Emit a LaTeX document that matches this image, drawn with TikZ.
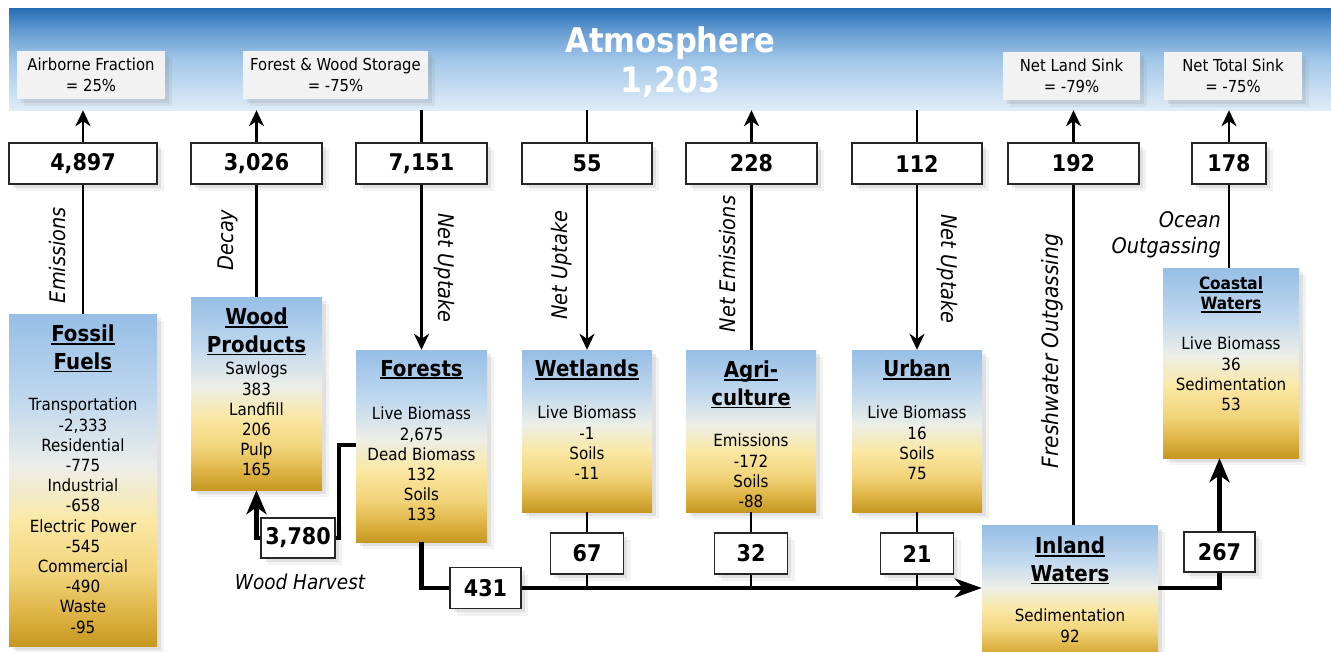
\documentclass[tikz,border=0pt]{standalone}
\usepackage{fontspec}
\setmainfont{DejaVu Sans Condensed}[BoldFont={DejaVu Sans Condensed Bold},ItalicFont={DejaVu Sans Condensed Oblique},BoldItalicFont={DejaVu Sans Condensed Bold Oblique}]
\usetikzlibrary{shadows,arrows.meta}
\definecolor{pg0}{RGB}{198,152,34}
\definecolor{pg1}{RGB}{222,180,70}
\definecolor{pg2}{RGB}{242,212,122}
\definecolor{pg3}{RGB}{250,232,165}
\definecolor{pg4}{RGB}{236,238,232}
\definecolor{pg5}{RGB}{192,216,238}
\definecolor{pg6}{RGB}{150,190,230}
\definecolor{at0}{RGB}{224,236,248}
\definecolor{at1}{RGB}{160,198,232}
\definecolor{at2}{RGB}{100,155,210}
\definecolor{at3}{RGB}{38,108,180}
\pgfdeclareverticalshading{pool}{100bp}{color(0bp)=(pg0); color(25bp)=(pg0); color(30bp)=(pg1); color(36bp)=(pg2); color(44bp)=(pg3); color(52bp)=(pg4); color(62bp)=(pg5); color(75bp)=(pg6); color(100bp)=(pg6)}
\pgfdeclareverticalshading{atmo}{100bp}{color(0bp)=(at0); color(25bp)=(at0); color(50bp)=(at1); color(64bp)=(at2); color(75bp)=(at3); color(100bp)=(at3)}
\newsavebox\ulbox
\newcommand\ulx[1]{\sbox\ulbox{#1}\rlap{\rule[-3pt]{\wd\ulbox}{1.8pt}}\usebox\ulbox}
\begin{document}
\begin{tikzpicture}[x=1pt,y=-1pt,
  shd/.style={drop shadow={opacity=0.10,shadow xshift=7pt,shadow yshift=-7pt},drop shadow={opacity=0.16,shadow xshift=3.5pt,shadow yshift=-3.5pt}},
  valbox/.style={shd,draw=black!85,line width=1.3pt,fill=white,inner sep=0pt,minimum height=41pt,font=\fontsize{23}{23}\selectfont\bfseries},
  labbox/.style={shd,fill=black!5,inner sep=0pt,align=center,minimum height=48pt,font=\fontsize{16.5}{21}\selectfont},
  pool/.style={shd,shading=pool,inner sep=0pt},
  ptitle/.style={anchor=north,align=center,inner sep=0pt,font=\fontsize{22}{27.5}\selectfont\bfseries},
  pbody/.style={anchor=north,align=center,inner sep=0pt,font=\fontsize{16.8}{20.2}\selectfont},
  flab/.style={inner sep=0pt,font=\fontsize{21.5}{26}\selectfont\itshape},
  conn/.style={line width=2.3pt},
  thk/.style={line width=4.3pt},
  arr/.style={-{Stealth[length=16pt,width=15pt,inset=5pt]}},
  bigarr/.style={-{Stealth[length=24pt,width=20pt,inset=7pt]}}
]
\useasboundingbox (0,0) rectangle (1331,651);
% atmosphere
\node[shading=atmo,inner sep=0pt,minimum width=1322pt,minimum height=102pt] (atm) at (670,59) {};
\node[font=\fontsize{34}{34}\selectfont\bfseries,text=white,anchor=base,inner sep=0pt] (atT) at (670.5,52) {Atmosphere};
\node[font=\fontsize{35}{35}\selectfont\bfseries,text=white,anchor=base,inner sep=0pt] (atN) at (670.5,92) {1,203};
% label boxes
\node[labbox,minimum width=148pt] (lAF) at (91,75) {Airborne Fraction\\= 25\%};
\node[labbox,minimum width=185pt] (lFW) at (335.5,75) {Forest \& Wood Storage\\= -75\%};
\node[labbox,minimum width=137pt] (lNL) at (1071.5,76) {Net Land Sink\\= -79\%};
\node[labbox,minimum width=138pt] (lNT) at (1233,76) {Net Total Sink\\= -75\%};
% value boxes (top row)
\node[valbox,minimum width=148pt] (v4897) at (83,163.5) {4,897};
\node[valbox,minimum width=131pt] (v3026) at (256.5,163.5) {3,026};
\node[valbox,minimum width=131pt] (v7151) at (421.5,163.5) {7,151};
\node[valbox,minimum width=130pt] (v55) at (587,163.5) {55};
\node[valbox,minimum width=131pt] (v228) at (751.5,163.5) {228};
\node[valbox,minimum width=130pt] (v112) at (917,163.5) {112};
\node[valbox,minimum width=131pt] (v192) at (1073.5,163.5) {192};
\node[valbox,minimum width=74pt] (v178) at (1229,163.5) {178};
% pools
\node[pool,minimum width=148pt,minimum height=332pt] (ff) at (83,480) {};
\node[pool,minimum width=131pt,minimum height=193pt] (wp) at (256.5,393.5) {};
\node[pool,minimum width=131pt,minimum height=192pt] (fo) at (421.5,446) {};
\node[pool,minimum width=130pt,minimum height=162pt] (we) at (587,431) {};
\node[pool,minimum width=130pt,minimum height=162pt] (ag) at (751,431) {};
\node[pool,minimum width=130pt,minimum height=162pt] (ur) at (917,431) {};
\node[pool,minimum width=136pt,minimum height=190pt] (cw) at (1231,363) {};
\node[pool,minimum width=176pt,minimum height=135pt] (iw) at (1070,592.5) {};
% pool texts
\node[ptitle] (ffT) at (83,325) {\ulx{Fossil}\\\ulx{Fuels}};
\node[pbody] (ffB) at (83,398) {Transportation\\-2,333\\Residential\\-775\\Industrial\\-658\\Electric Power\\-545\\Commercial\\-490\\Waste\\-95};
\node[ptitle] (wpT) at (256.5,308) {\ulx{Wood}\\\ulx{Products}};
\node[pbody] (wpB) at (256.5,362) {Sawlogs\\383\\Landfill\\206\\Pulp\\165};
\node[ptitle] (foT) at (421.5,360) {\ulx{Forests}};
\node[pbody] (foB) at (421.5,407) {Live Biomass\\2,675\\Dead Biomass\\132\\Soils\\133};
\node[ptitle] (weT) at (587,360) {\ulx{Wetlands}};
\node[pbody] (weB) at (587,406) {Live Biomass\\-1\\Soils\\-11};
\node[ptitle] (agT) at (751,361) {\ulx{Agri-}\\\ulx{culture}};
\node[pbody] (agB) at (751,434) {Emissions\\-172\\Soils\\-88};
\node[ptitle] (urT) at (917,360) {\ulx{Urban}};
\node[pbody] (urB) at (917,406) {Live Biomass\\16\\Soils\\75};
\node[ptitle,font=\fontsize{17}{20}\selectfont\bfseries] (cwT) at (1231,276.8) {\ulx{Coastal}\\\ulx{Waters}};
\node[pbody] (cwB) at (1231,337) {Live Biomass\\36\\Sedimentation\\53};
\node[ptitle] (iwT) at (1070,537) {\ulx{Inland}\\\ulx{Waters}};
\node[pbody] (iwB) at (1070,609) {Sedimentation\\92};
% lower value boxes
\node[valbox,minimum width=74pt,minimum height=40pt] (v3780) at (298,538) {3,780};
\node[valbox,minimum width=71pt] (v431) at (485.5,588) {431};
\node[valbox,minimum width=73pt] (v67) at (587,553.5) {67};
\node[valbox,minimum width=73pt] (v32) at (751,553.5) {32};
\node[valbox,minimum width=73pt] (v21) at (917,553.5) {21};
\node[valbox,minimum width=71pt,minimum height=40pt] (v267) at (1219.5,552) {267};
% flow labels
\node[flab,rotate=90] (lEm) at (57,255) {Emissions};
\node[flab,rotate=90] (lDe) at (228,240) {Decay};
\node[flab,rotate=-90] (lNU1) at (444,268) {Net Uptake};
\node[flab,rotate=90] (lNU2) at (562,265) {Net Uptake};
\node[flab,rotate=90] (lNE) at (727,264) {Net Emissions};
\node[flab,rotate=-90] (lNU3) at (947,269) {Net Uptake};
\node[flab,rotate=90,font=\fontsize{22.5}{26}\selectfont\itshape] (lFO) at (1052,351) {Freshwater Outgassing};
\node[flab,align=right,anchor=east] (lOO) at (1221,235) {Ocean\\Outgassing};
\node[flab,font=\fontsize{20.5}{24}\selectfont\itshape] (lWH) at (300,582) {Wood Harvest};
% connectors to atmosphere
\draw[conn,arr] (v4897.north) -- (v4897.north |- atm.south);
\draw[conn,arr] (v3026.north) -- (v3026.north |- atm.south);
\draw[conn] (v7151.north) -- (v7151.north |- atm.south);
\draw[conn] (v55.north) -- (v55.north |- atm.south);
\draw[conn,arr] (v228.north) -- (v228.north |- atm.south);
\draw[conn] (v112.north) -- (v112.north |- atm.south);
\draw[conn,arr] (v192.north) -- (v192.north |- atm.south);
\draw[conn,arr] (v178.north) -- (v178.north |- atm.south);
% connectors to pools
\draw[conn] (v4897.south) -- (v4897.south |- ff.north);
\draw[conn] (v3026.south) -- (v3026.south |- wp.north);
\draw[conn,arr] (v7151.south) -- (v7151.south |- fo.north);
\draw[conn,arr] (v55.south) -- (v55.south |- we.north);
\draw[conn] (v228.south) -- (v228.south |- ag.north);
\draw[conn,arr] (v112.south) -- (v112.south |- ur.north);
\draw[conn] (v192.south) -- (v192.south |- iw.north);
\draw[conn] (v178.south) -- (v178.south |- cw.north);
% wood harvest
\coordinate (fh) at (356,445);
\draw[thk] (fh) -- ++(-17,0) |- (v3780.east);
\draw[thk,bigarr] (v3780.west) -| (wp.south);
% lateral flows
\draw[thk] (fo.south) |- (v431.west);
\draw[thk,-{Stealth[length=27pt,width=19pt,inset=8pt]}] (v431.east) -- (iw.west |- v431.east);
\draw[conn] (we.south) -- (v67.north);
\draw[conn] (v67.south) -- (v67.south |- v431.east);
\draw[conn] (ag.south) -- (v32.north);
\draw[conn] (v32.south) -- (v32.south |- v431.east);
\draw[conn] (ur.south) -- (v21.north);
\draw[conn] (v21.south) -- (v21.south |- v431.east);
\draw[thk] (iw.east |- v431.east) -| (v267.south);
\draw[thk,bigarr] (v267.north) -- (v267.north |- cw.south);
\end{tikzpicture}
\end{document}
